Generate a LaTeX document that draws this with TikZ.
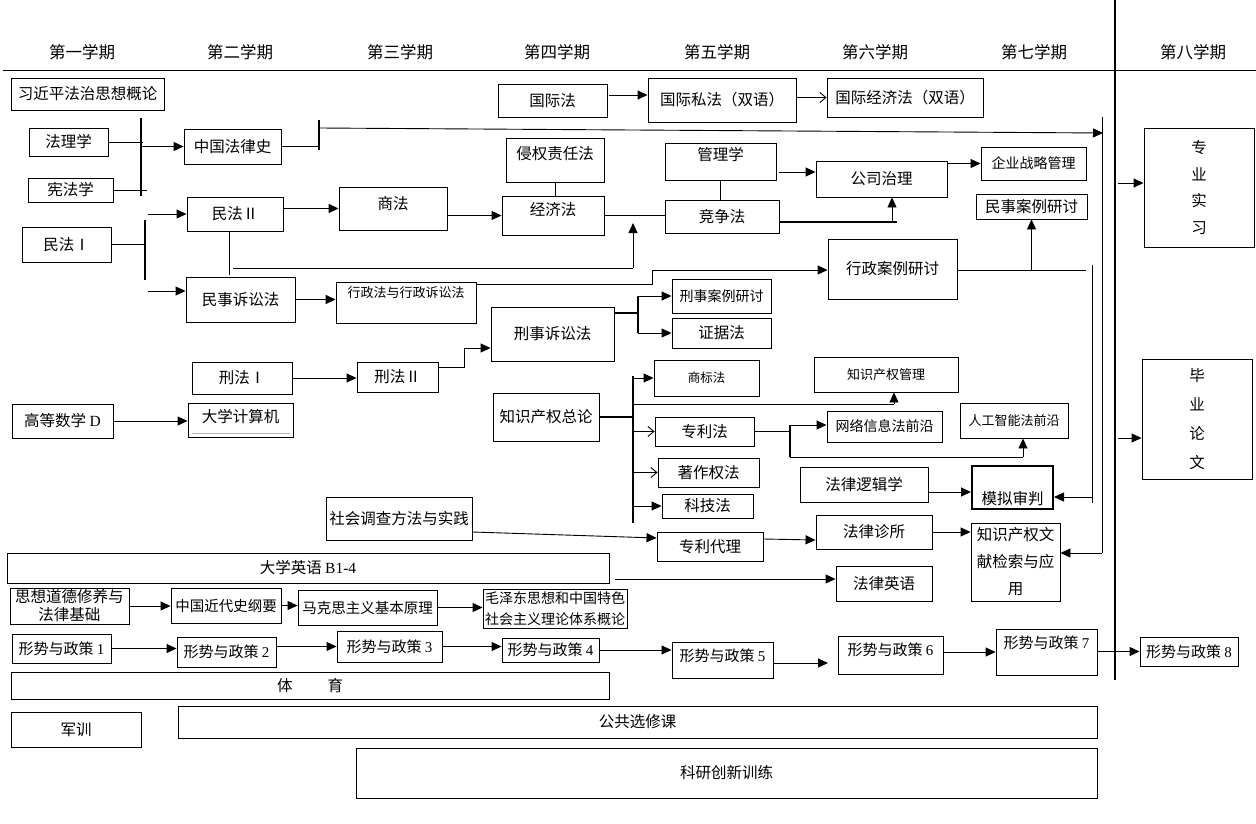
\documentclass[tikz,border=0pt]{standalone}
\usepackage{fontspec}
\setmainfont{Noto Sans CJK SC}
\newfontfamily\lat{Liberation Serif}
\usetikzlibrary{arrows.meta}
\newcommand\myfs[2]{\fontsize{#1pt}{#2pt}\selectfont}
\newcommand\bx[6][]{\node[box,minimum width={(#4-#2)*1pt},minimum height={(#5-#3)*1pt},#1] (#6) at ({(#2+#4)/2},{(#3+#5)/2})}
\tikzset{
  box/.style={draw, line width=0.9pt, inner sep=0pt, align=center, font=\myfs{15.5}{18}},
  hd/.style={inner sep=0pt, font=\myfs{16.5}{18}},
  arr/.style={-{Triangle[length=10pt,width=9pt]}, line width=0.9pt},
  oarr/.style={-{Straight Barb[length=6pt,width=10pt]}, line width=0.9pt},
  ln/.style={line width=0.9pt},
  bar/.style={line width=2.2pt},
  xsp/.style={font=\myfs{15}{18}}
}
\begin{document}
\begin{tikzpicture}[x=1pt,y=-1pt]
\useasboundingbox (0,0) rectangle (1256,824);
% headers
\node[hd] (h1) at (82,52) {第一学期};
\node[hd] (h2) at (240,52) {第二学期};
\node[hd] (h3) at (400,52) {第三学期};
\node[hd] (h4) at (557,52) {第四学期};
\node[hd] (h5) at (717,52) {第五学期};
\node[hd] (h6) at (875,52) {第六学期};
\node[hd] (h7) at (1034,52) {第七学期};
\node[hd] (h8) at (1193,52) {第八学期};
\coordinate (hl1) at (3,70); \coordinate (hl2) at (1256,70);
\draw[ln] (hl1) -- (hl2);
\coordinate (vt) at (1115,0); \coordinate (vb) at (1115,680);
\draw[line width=2.5pt] (vt) -- (vb);
% boxes
\bx{11}{78}{164}{110}{xjp}{习近平法治思想概论};
\bx{29}{128}{108}{156}{fl}{法理学};
\bx{28}{178}{113}{202}{xf}{宪法学};
\bx{184}{129}{281}{164}{zgfls}{中国法律史};
\bx{22}{227}{111}{262}{mfa}{民法Ⅰ};
\bx{187}{197}{283}{231}{mfb}{民法Ⅱ};
\bx[text depth=12pt]{339}{187}{447}{230}{sf}{商法};
\bx{186}{277}{295}{322}{msss}{民事诉讼法};
\bx[font=\myfs{13}{15},text depth=21pt]{336}{282}{476}{323}{xzf}{行政法与行政诉讼法};
\bx{192}{362}{292}{394}{xfa}{刑法Ⅰ};
\bx{357}{362}{438}{392}{xfb}{刑法Ⅱ};
\bx{12}{404}{113}{438}{gdsx}{高等数学 {\lat D}};
\bx[text depth=8pt]{188}{403}{293}{437}{dxjsj}{大学计算机};
\bx{498}{84}{607}{117}{gjf}{国际法};
\bx{648}{78}{796}{122}{gjsf}{国际私法（双语）};
\bx{827}{78}{983}{117}{gjjjf}{国际经济法（双语）};
\bx[text depth=14pt]{506}{138}{604}{182}{qqzrf}{侵权责任法};
\bx[text depth=13pt]{502}{196}{604}{235}{jjf}{经济法};
\bx[text depth=15pt]{665}{143}{776}{180}{glx}{管理学};
\bx{665}{200}{779}{233}{jzf}{竞争法};
\bx{816}{161}{947}{197}{gszl}{公司治理};
\bx[font=\myfs{14}{16}]{981}{147}{1086}{180}{qyzl}{企业战略管理};
\bx{976}{194}{1087}{219}{msal}{民事案例研讨};
\bx{828}{239}{957}{299}{xzal}{行政案例研讨};
\bx{491}{307}{614}{361}{xsss}{刑事诉讼法};
\bx[font=\myfs{14}{16}]{672}{279}{771}{313}{xsal}{刑事案例研讨};
\bx{672}{318}{771}{348}{zjf}{证据法};
\bx{493}{393}{599}{441}{zscqzl}{知识产权总论};
\bx[font=\myfs{12.5}{15}]{654}{360}{759}{396}{sbf}{商标法};
\bx{655}{417}{754}{446}{zlf}{专利法};
\bx{658}{458}{759}{487}{zzqf}{著作权法};
\bx{662}{494}{753}{518}{kjf}{科技法};
\bx[font=\myfs{13}{15}]{814}{357}{958}{392}{zscqgl}{知识产权管理};
\bx[font=\myfs{14}{16}]{827}{411}{942}{442}{wlxx}{网络信息法前沿};
\bx[font=\myfs{13}{15}]{960}{403}{1068}{438}{rgzn}{人工智能法前沿};
\bx{800}{467}{928}{502}{fllj}{法律逻辑学};
\bx[line width=2pt,text height=36pt]{972}{466}{1053}{509}{mnsp}{模拟审判};
\bx{326}{497}{472}{540}{shdc}{社会调查方法与实践};
\bx{657}{532}{763}{561}{zldl}{专利代理};
\bx{816}{515}{932}{549}{flzs}{法律诊所};
\bx[font=\myfs{15.5}{27}]{971}{523}{1060}{601}{zscqwx}{知识产权文\\献检索与应\\用};
\bx{836}{566}{932}{601}{flyy}{法律英语};
\bx{7}{553}{609}{583}{dxyy}{大学英语 {\lat B1-4}};
\bx{10}{588}{129}{624}{sxdd}{思想道德修养与\\法律基础};
\bx[font=\myfs{14.5}{17}]{171}{588}{281}{623}{jds}{中国近代史纲要};
\bx[font=\myfs{14.5}{17}]{298}{590}{437}{625}{mks}{马克思主义基本原理};
\bx[font=\myfs{14}{21}]{483}{589}{627}{628}{mzd}{毛泽东思想和中国特色\\社会主义理论体系概论};
\bx[xsp]{12}{634}{111}{663}{xsa}{形势与政策 {\lat 1}};
\bx[xsp]{177}{637}{276}{667}{xsb}{形势与政策 {\lat 2}};
\bx[xsp]{337}{631}{442}{662}{xsc}{形势与政策 {\lat 3}};
\bx[xsp]{502}{638}{599}{662}{xsd}{形势与政策 {\lat 4}};
\bx[xsp,text depth=10pt]{672}{642}{773}{678}{xse}{形势与政策 {\lat 5}};
\bx[xsp,text depth=12pt]{838}{636}{943}{674}{xsf}{形势与政策 {\lat 6}};
\bx[xsp,text depth=20pt]{996}{629}{1097}{675}{xsg}{形势与政策 {\lat 7}};
\bx[xsp]{1140}{637}{1238}{666}{xsh}{形势与政策 {\lat 8}};
\bx{11}{672}{609}{699}{ty}{体\hspace{35pt}育};
\bx{11}{712}{141}{747}{jx}{军训};
\bx{178}{706}{1097}{738}{ggxx}{公共选修课};
\bx{356}{748}{1097}{798}{kycx}{科研创新训练};
\bx[font=\myfs{15.5}{26.7}]{1144}{128}{1254}{247}{zysx}{专\\业\\实\\习};
\bx[font=\myfs{15.5}{29}]{1142}{359}{1252}{479}{bylw}{毕\\业\\论\\文};
% inner gray line of 大学计算机
\coordinate (dj1) at (192,433); \coordinate (dj2) at (290,433);
\draw[gray!60, line width=0.8pt] (dj1) -- (dj2);
% 高等数学 -> 大学计算机
\draw[arr] (gdsx.east) -- (dxjsj.west |- gdsx.east);
% 法理学/宪法学 -> 中国法律史
\coordinate (b1t) at (141,118); \coordinate (b1b) at (141,196);
\draw[bar] (b1t) -- (b1b);
\draw[ln] (fl.east) -- ([xshift=2pt]fl.east -| b1t);
\draw[ln] (xf.east) -- ([xshift=6pt]xf.east -| b1t);
\draw[arr] (zgfls.west -| b1t) -- (zgfls.west);
% 中国法律史 -> long arrow
\coordinate (b2t) at (319,120); \coordinate (b2b) at (319,150);
\draw[bar] (b2t) -- (b2b);
\draw[line width=1.8pt] (zgfls.east) -- (zgfls.east -| b2t);
\coordinate (b2m) at (319,128); \coordinate (lae) at (1103,133);
\draw[arr] (b2m) -- (lae);
% right vertical lines
\coordinate (r1t) at (1102,117); \coordinate (r1b) at (1102,553);
\draw[ln] (r1t) -- (r1b);
\draw[arr] (r1b) -- (zscqwx.east |- r1b);
\coordinate (r2t) at (1092,265); \coordinate (r2b) at (1092,503); \coordinate (r2m) at (1092,497);
\draw[ln] (r2t) -- (r2b);
\draw[arr] (r2m) -- (mnsp.east |- r2m);
% 行政案例研讨 -> 民事案例研讨
\coordinate (xze) at (1086,270);
\draw[ln] (xzal.east |- xze) -- (xze);
\draw[arr] (msal.south |- xze) -- (msal.south);
% 民法I
\coordinate (b3t) at (145,220); \coordinate (b3b) at (145,280);
\draw[bar] (b3t) -- (b3b);
\draw[line width=1.8pt] (mfa.east) -- (mfa.east -| b3t);
\coordinate (b3a) at (148,214); \draw[arr] (b3a) -- (mfb.west |- b3a);
\coordinate (b3c) at (148,291); \draw[arr] (b3c) -- (msss.west |- b3c);
% 民法II
\draw[arr, line width=1.5pt] (mfb.east |- sf.west) -- (sf.west);
\draw[arr] (sf.east |- jjf.west) -- (jjf.west);
\coordinate (m2b) at (229,275);
\draw[ln] (mfb.south -| m2b) -- (m2b);
\coordinate (m2c) at (233,268); \coordinate (m2d) at (633,268); \coordinate (m2e) at (633,223);
\draw[ln] (m2c) -- (m2d);
\draw[arr] (m2d) -- (m2e);
% 经济法 group
\draw[ln] (qqzrf.south) -- (qqzrf.south |- jjf.north);
\draw[ln] (jjf.east) -- (jzf.west |- jjf.east);
\draw[ln] (glx.south) -- (glx.south |- jzf.north);
\coordinate (g1) at (779,172); \draw[arr] (g1) -- (gszl.west |- g1);
\coordinate (j1) at (897,222); \coordinate (j2) at (892,222);
\draw[line width=1.6pt] (jzf.east |- j1) -- (j1);
\draw[arr] (j2) -- (j2 |- gszl.south);
\draw[arr] (gszl.east |- qyzl.west) -- (qyzl.west);
% 国际
\coordinate (gj1) at (609,95); \draw[arr] (gj1) -- (gjsf.west |- gj1);
\draw[oarr] (gjsf.east |- gjjjf.west) -- (gjjjf.west);
% 民事诉讼法 -> 行政法 -> 行政案例研讨
\draw[arr, line width=1.5pt] (msss.east) -- (xzf.west |- msss.east);
\coordinate (x1) at (477,284); \coordinate (x2) at (652,270);
\draw[arr] (x1) -| (x2) -- (xzal.west |- x2);
% 刑法
\draw[arr] (xfa.east) -- (xfb.west |- xfa.east);
\coordinate (k1) at (438,367); \coordinate (k2) at (464,348);
\draw[arr] (k1) -| (k2) -- (xsss.west |- k2);
\coordinate (b4t) at (638,296); \coordinate (k3) at (638,313);
\draw[line width=1.8pt] (xsss.east |- k3) -- (k3);
\draw[bar] (xsal.west -| b4t) -- (zjf.west -| b4t);
\draw[arr] (xsal.west -| b4t) -- (xsal.west);
\draw[arr] (zjf.west -| b4t) -- (zjf.west);
% 知识产权总论 bus
\coordinate (b5t) at (633,376); \coordinate (b5b) at (633,523);
\draw[bar] (b5t) -- (b5b);
\draw[line width=1.8pt] (zscqzl.east) -- (zscqzl.east -| b5t);
\draw[arr] (sbf.west -| b5t) -- (sbf.west);
\draw[oarr] (zlf.west -| b5t) -- (zlf.west);
\draw[oarr] (zzqf.west -| b5t) -- (zzqf.west);
\draw[arr] (kjf.west -| b5t) -- (kjf.west);
\coordinate (c4a) at (633,404); \coordinate (c4b) at (894,404);
\draw[ln] (c4a) -- (c4b);
\draw[arr] (c4b) -- (c4b |- zscqgl.south);
% 专利法 branch
\coordinate (b6t) at (790,425); \coordinate (b6b) at (790,457);
\draw[ln] (zlf.east) -- (zlf.east -| b6t);
\draw[bar] (b6t) -- (b6b);
\draw[arr] (b6t) -- (wlxx.west |- b6t);
\coordinate (c6) at (1023,457);
\draw[ln] (b6b) -- (c6);
\draw[arr] (c6) -- (c6 |- rgzn.south);
% 法律逻辑学 -> 模拟审判
\coordinate (f1) at (928,492); \draw[arr] (f1) -- (mnsp.west |- f1);
% 社会调查 -> 专利代理 -> 法律诊所 -> 知识产权文献
\coordinate (s1) at (472,532); \coordinate (s2) at (657,538);
\draw[arr] (shdc.east |- s1) -- (zldl.west |- s2);
\coordinate (p1) at (763,539); \coordinate (p2) at (816,540);
\draw[arr] (zldl.east |- p1) -- (flzs.west |- p2);
\draw[arr] (flzs.east) -- (zscqwx.west |- flzs.east);
% 大学英语 -> 法律英语
\coordinate (e1) at (615,579); \draw[arr] (e1) -- (flyy.west |- e1);
% 思政
\draw[arr] (sxdd.east) -- (jds.west |- sxdd.east);
\draw[arr] (jds.east) -- (mks.west |- jds.east);
\draw[arr] (mks.east) -- (mzd.west |- mks.east);
% 形势与政策
\draw[arr] (xsa.east) -- (xsb.west |- xsa.east);
\draw[arr] (xsb.east |- xsc.west) -- (xsc.west);
\draw[arr] (xsc.east) -- (xsd.west |- xsc.east);
\draw[arr] (xsd.east) -- (xse.west |- xsd.east);
\coordinate (t5) at (773,663); \coordinate (t6) at (828,663);
\draw[arr] (xse.east |- t5) -- (t6);
\draw[arr] (xsf.east |- xsg.west) -- (xsg.west);
\draw[arr] (xsg.east |- xsh.west) -- (xsh.west);
% 8th semester
\coordinate (q1) at (1118,183); \draw[arr] (q1) -- (zysx.west |- q1);
\coordinate (q2) at (1118,438); \draw[arr] (q2) -- (bylw.west |- q2);
\end{tikzpicture}
\end{document}
